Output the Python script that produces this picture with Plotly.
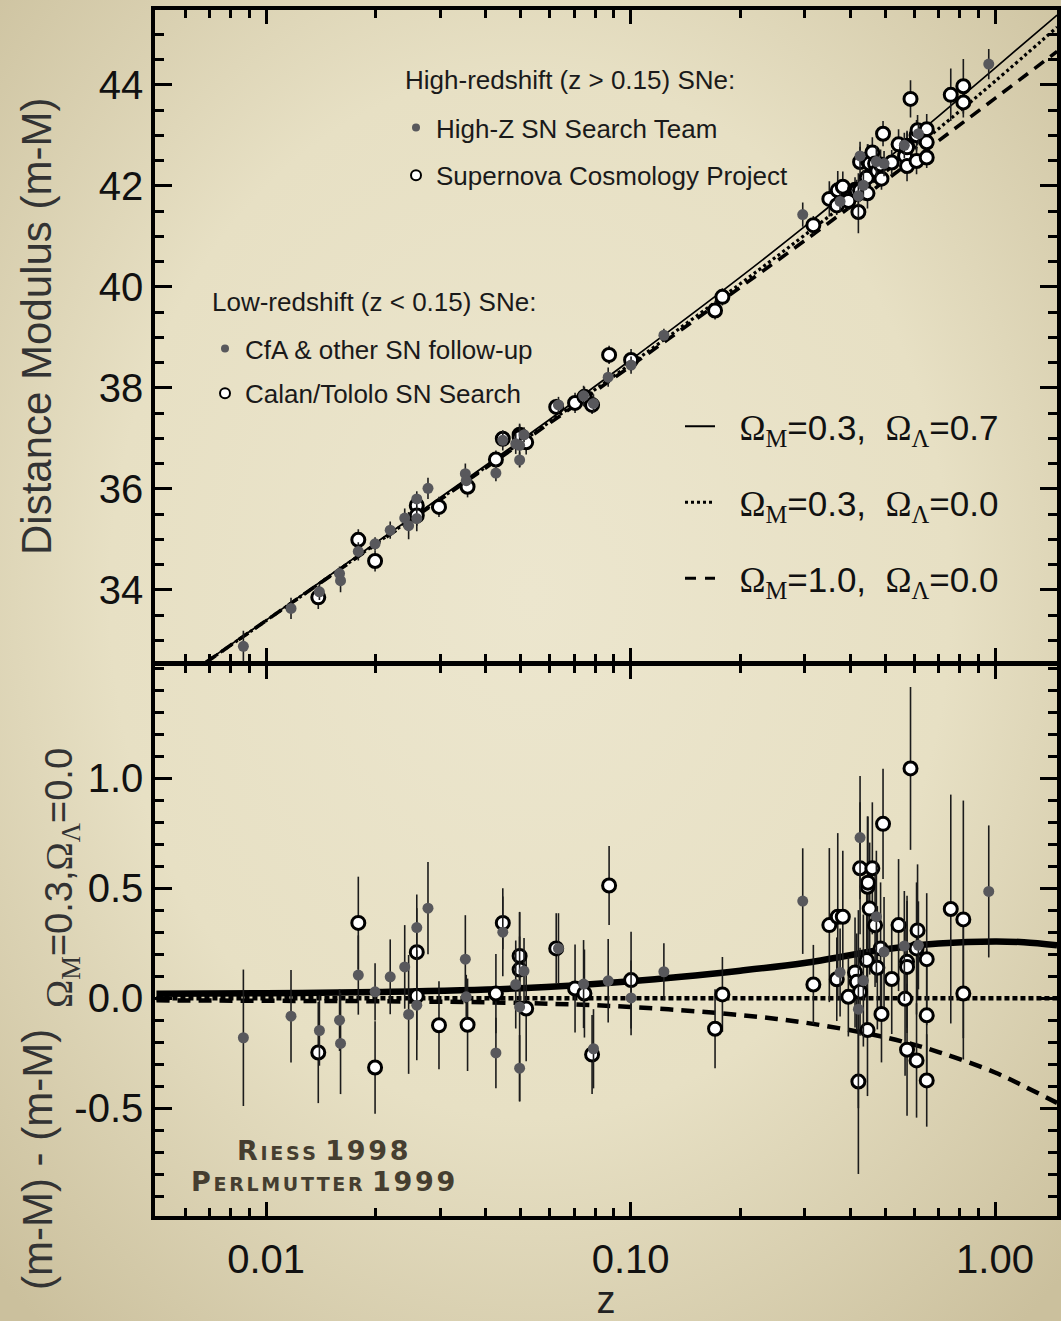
import base64
import plotly.graph_objects as go

# ---------------- data ----------------
# Low-redshift, filled grey (CfA & other SN follow-up)
lowz_filled_z = [0.00866, 0.0117, 0.0140, 0.0159, 0.0160, 0.0179, 0.0199, 0.0219, 0.0240, 0.0246,
                 0.0259, 0.0259, 0.0278, 0.0352, 0.0354, 0.0427, 0.0446, 0.0484, 0.0496, 0.0496,
                 0.0510, 0.0634, 0.0743, 0.0791, 0.0868, 0.1003, 0.1234]
lowz_filled_mu = [32.88, 33.63, 33.96, 34.32, 34.18, 34.76, 34.91, 35.18, 35.42, 35.27,
                  35.80, 35.41, 36.01, 36.30, 36.16, 36.31, 36.96, 36.89, 36.86, 36.57,
                  37.07, 37.66, 37.84, 37.69, 38.21, 38.45, 39.04]
lowz_filled_res = [-0.180, -0.082, -0.147, -0.100, -0.206, 0.105, 0.029, 0.097, 0.142, -0.074,
                   0.321, -0.032, 0.409, 0.177, 0.006, -0.249, 0.300, 0.062, -0.040, -0.318,
                   0.123, 0.226, 0.064, -0.230, 0.079, 0.001, 0.120]
lowz_filled_err = [0.31, 0.21, 0.16, 0.14, 0.23, 0.18, 0.13, 0.17, 0.19, 0.27,
                   0.15, 0.25, 0.21, 0.20, 0.10, 0.16, 0.20, 0.20, 0.43, 0.15,
                   0.15, 0.16, 0.20, 0.18, 0.19, 0.17, 0.13]

# Low-redshift, open (Calan/Tololo SN Search)
lowz_open_z = [0.0139, 0.0179, 0.0199, 0.0259, 0.0259, 0.0298, 0.0357, 0.0427, 0.0446, 0.0496,
               0.0496, 0.0517, 0.0625, 0.0704, 0.0747, 0.0784, 0.0873, 0.1003]
lowz_open_mu = [33.85, 34.99, 34.57, 35.67, 35.47, 35.64, 36.04, 36.58, 36.99, 37.07,
                37.02, 36.92, 37.62, 37.70, 37.82, 37.66, 38.65, 38.55]
lowz_open_res = [-0.247, 0.342, -0.315, 0.209, 0.010, -0.123, -0.121, 0.021, 0.342, 0.192,
                 0.130, -0.047, 0.226, 0.044, 0.021, -0.256, 0.512, 0.082]
lowz_open_err = [0.23, 0.21, 0.21, 0.20, 0.20, 0.20, 0.21, 0.18, 0.12, 0.20,
                 0.15, 0.24, 0.16, 0.20, 0.20, 0.18, 0.18, 0.22]

# High-redshift, filled grey (High-Z SN Search Team)
highz_filled_z = [0.2967, 0.3757, 0.4217, 0.4262, 0.4352, 0.4725, 0.4960, 0.5638, 0.6162, 0.961]
highz_filled_mu = [41.43, 41.69, 41.80, 42.59, 42.01, 42.48, 42.44, 42.80, 43.03, 44.41]
highz_filled_res = [0.441, 0.117, -0.050, 0.730, 0.080, 0.370, 0.210, 0.237, 0.240, 0.485]
highz_filled_err = [0.24, 0.20, 0.45, 0.28, 0.30, 0.30, 0.25, 0.25, 0.20, 0.30]

# High-redshift, open (Supernova Cosmology Project)
highz_open_z = [0.1705, 0.1786, 0.3173, 0.351, 0.3702, 0.3822, 0.3679, 0.3958, 0.4129, 0.4173,
                0.4217, 0.4262, 0.4262, 0.4446, 0.4467, 0.4467, 0.4480, 0.4529, 0.4606, 0.4686,
                0.4754, 0.4852, 0.4880, 0.4928, 0.5206, 0.5436, 0.5664, 0.5735, 0.5735, 0.5735,
                0.5862, 0.6090, 0.6090, 0.6129, 0.6494, 0.6494, 0.6494, 0.7560, 0.8184, 0.8184]
highz_open_mu = [39.53, 39.80, 41.22, 41.74, 41.91, 41.98, 41.61, 41.70, 41.92, 41.90,
                 41.48, 42.47, 41.91, 42.16, 42.50, 41.85, 42.52, 42.44, 42.66, 42.44,
                 42.29, 42.42, 42.14, 43.03, 42.46, 42.82, 42.59, 42.79, 42.76, 42.39,
                 43.72, 42.49, 43.00, 43.10, 43.12, 42.86, 42.56, 43.80, 43.97, 43.65]
highz_open_res = [-0.139, 0.017, 0.062, 0.332, 0.370, 0.370, 0.086, 0.006, 0.117, 0.074,
                  -0.379, 0.590, 0.029, 0.173, 0.506, -0.145, 0.525, 0.407, 0.590, 0.331,
                  0.138, 0.226, -0.072, 0.792, 0.087, 0.332, -0.003, 0.165, 0.142, -0.234,
                  1.044, -0.283, 0.226, 0.308, 0.177, -0.078, -0.374, 0.405, 0.358, 0.021]
highz_open_err = [0.18, 0.17, 0.18, 0.35, 0.38, 0.30, 0.19, 0.18, 0.25, 0.22,
                  0.42, 0.30, 0.20, 0.30, 0.32, 0.30, 0.30, 0.30, 0.30, 0.28,
                  0.28, 0.30, 0.22, 0.25, 0.25, 0.30, 0.35, 0.30, 0.30, 0.30,
                  0.37, 0.26, 0.30, 0.30, 0.30, 0.30, 0.21, 0.52, 0.54, 0.30]

# Model curves, top panel (distance modulus)
curve_z_top = [0.005, 0.00689, 0.01, 0.02, 0.05, 0.1, 0.2, 0.3, 0.5, 0.7, 1.0, 1.48]
top_l07 = [31.88, 32.59, 33.40, 34.93, 36.96, 38.55, 40.19, 41.19, 42.50, 43.38, 44.33, 45.38]
top_l00 = [31.88, 32.58, 33.39, 34.91, 36.92, 38.47, 40.06, 41.02, 42.27, 43.13, 44.07, 45.14]
top_m10 = [31.88, 32.58, 33.39, 34.90, 36.90, 38.43, 39.99, 40.91, 42.10, 42.89, 43.73, 44.66]

# Model curves, bottom panel (residual from Om=0.3, OL=0.0)
curve_z_bot = [0.005, 0.01, 0.02, 0.05, 0.1, 0.2, 0.3, 0.5, 0.7, 1.0, 1.2, 1.48]
bot_l07 = [0.020, 0.022, 0.028, 0.045, 0.077, 0.125, 0.160, 0.222, 0.248, 0.258, 0.254, 0.240]
bot_l00 = [0.000, 0.000, 0.000, 0.000, 0.000, 0.000, 0.000, 0.000, 0.000, 0.000, 0.000, 0.000]
bot_m10 = [-0.010, -0.012, -0.014, -0.022, -0.040, -0.077, -0.111, -0.178, -0.245, -0.338, -0.400, -0.476]

# Ticks
x_tickvals = [0.01, 0.1, 1.0]
x_ticktext = ["0.01", "0.10", "1.00"]
x_minor = [0.006, 0.007, 0.008, 0.009, 0.02, 0.03, 0.04, 0.05, 0.06, 0.07, 0.08, 0.09,
           0.2, 0.3, 0.4, 0.5, 0.6, 0.7, 0.8, 0.9]
ytop_tickvals = [34, 36, 38, 40, 42, 44]
ytop_ticktext = ["34", "36", "38", "40", "42", "44"]
ybot_tickvals = [-0.5, 0.0, 0.5, 1.0]
ybot_ticktext = ["-0.5", "0.0", "0.5", "1.0"]

# ---------------- styling ----------------
SANS = "Liberation Sans, Arial, sans-serif"
SERIF = "Liberation Serif"
OPEN_MK = dict(symbol="circle", size=13, color="white", line=dict(color="black", width=3))
FILL_MK = dict(symbol="circle", size=11, color="#58585c", line=dict(width=0))
ERR_COL = "#1c1c1c"
LW = 3.5


def errs(arr):
    return dict(type="data", array=arr, visible=True, thickness=1.6, width=0, color=ERR_COL)


fig = go.Figure()

# --- model curves, top panel
fig.add_trace(go.Scatter(x=curve_z_top, y=top_l07, mode="lines", xaxis="x2", yaxis="y2",
                         line=dict(color="black", width=1.7, shape="spline"), showlegend=False))
fig.add_trace(go.Scatter(x=curve_z_top, y=top_l00, mode="lines", xaxis="x2", yaxis="y2",
                         line=dict(color="black", width=3.2, dash="3px,3px", shape="spline"), showlegend=False))
fig.add_trace(go.Scatter(x=curve_z_top, y=top_m10, mode="lines", xaxis="x2", yaxis="y2",
                         line=dict(color="black", width=3.6, dash="12px,8px", shape="spline"), showlegend=False))
# --- model curves, bottom panel
fig.add_trace(go.Scatter(x=curve_z_bot, y=bot_l07, mode="lines", xaxis="x", yaxis="y",
                         line=dict(color="black", width=6.5, shape="spline"), showlegend=False))
fig.add_trace(go.Scatter(x=curve_z_bot, y=bot_l00, mode="lines", xaxis="x", yaxis="y",
                         line=dict(color="black", width=4.5, dash="5px,3px"), showlegend=False))
fig.add_trace(go.Scatter(x=curve_z_bot, y=bot_m10, mode="lines", xaxis="x", yaxis="y",
                         line=dict(color="black", width=4.5, dash="13px,8px", shape="spline"), showlegend=False))

# --- open points (drawn first), then filled points on top
for zz, mu, rr, ee in [(lowz_open_z, lowz_open_mu, lowz_open_res, lowz_open_err),
                       (highz_open_z, highz_open_mu, highz_open_res, highz_open_err)]:
    fig.add_trace(go.Scatter(x=zz, y=mu, mode="markers", xaxis="x2", yaxis="y2", marker=OPEN_MK,
                             error_y=errs(ee), showlegend=False))
    fig.add_trace(go.Scatter(x=zz, y=rr, mode="markers", xaxis="x", yaxis="y", marker=OPEN_MK,
                             error_y=errs(ee), showlegend=False))
for zz, mu, rr, ee in [(lowz_filled_z, lowz_filled_mu, lowz_filled_res, lowz_filled_err),
                       (highz_filled_z, highz_filled_mu, highz_filled_res, highz_filled_err)]:
    fig.add_trace(go.Scatter(x=zz, y=mu, mode="markers", xaxis="x2", yaxis="y2", marker=FILL_MK,
                             error_y=errs(ee), showlegend=False))
    fig.add_trace(go.Scatter(x=zz, y=rr, mode="markers", xaxis="x", yaxis="y", marker=FILL_MK,
                             error_y=errs(ee), showlegend=False))

# --- legend-only entries
LEG_DOT = dict(symbol="circle", size=8, color="#58585c")
LEG_OPEN = dict(symbol="circle", size=10, color="white", line=dict(color="black", width=2))
fig.add_trace(go.Scatter(x=[None], y=[None], mode="markers", marker=LEG_DOT, name="High-Z SN Search Team",
                         legend="legend", legendgroup="a1"))
fig.add_trace(go.Scatter(x=[None], y=[None], mode="markers", marker=LEG_OPEN, name="Supernova Cosmology Project",
                         legend="legend", legendgroup="a2"))
fig.add_trace(go.Scatter(x=[None], y=[None], mode="markers", marker=LEG_DOT, name="CfA &amp; other SN follow-up",
                         legend="legend2", legendgroup="b1"))
fig.add_trace(go.Scatter(x=[None], y=[None], mode="markers", marker=LEG_OPEN, name="Calan/Tololo SN Search",
                         legend="legend2", legendgroup="b2"))


def om(sub, val):
    return (f'<span style="font-family:{SERIF}">Ω</span><sub><span style="font-family:{SERIF}">{sub}</span></sub>={val}')


NB = "\u00a0"
fig.add_trace(go.Scatter(x=[None], y=[None], mode="lines", line=dict(color="black", width=2),
                         name=NB * 2 + om("M", "0.3") + "," + NB * 2 + om("Λ", "0.7"),
                         legend="legend3", legendgroup="c1"))
fig.add_trace(go.Scatter(x=[None], y=[None], mode="lines", line=dict(color="black", width=3, dash="3px,3px"),
                         name=NB * 2 + om("M", "0.3") + "," + NB * 2 + om("Λ", "0.0"),
                         legend="legend3", legendgroup="c2"))
fig.add_trace(go.Scatter(x=[None], y=[None], mode="lines", line=dict(color="black", width=3.2, dash="11px,9px"),
                         name=NB * 2 + om("M", "1.0") + "," + NB * 2 + om("Λ", "0.0"),
                         legend="legend3", legendgroup="c3"))

# ---------------- axes ----------------
xcommon = dict(type="log", range=[-2.305, 0.170], showgrid=False, zeroline=False, showline=True,
               linecolor="black", linewidth=LW, mirror="ticks", ticks="inside", ticklen=14,
               tickwidth=3, tickcolor="black", tickmode="array", tickvals=x_tickvals, ticktext=x_ticktext,
               automargin=False,
               minor=dict(ticks="inside", ticklen=8, tickwidth=2.5, tickcolor="black",
                          tickmode="array", tickvals=x_minor, showgrid=False))
ycommon = dict(showgrid=False, zeroline=False, showline=True, linecolor="black", linewidth=LW,
               mirror="ticks", ticks="inside", ticklen=17, tickwidth=3, tickcolor="black", automargin=False,
               tickmode="array", tickfont=dict(family=SANS, size=40, color="#111"), ticklabelstandoff=0)

split = 551 / 1206
top_start = split + LW / 1206   # so the two panel border lines coincide
fig.update_layout(
    xaxis=dict(**xcommon, anchor="y", domain=[0, 1],
               tickfont=dict(family=SANS, size=40, color="#111"), ticklabelstandoff=5,
               title=dict(text="z", font=dict(family=SANS, size=38, color="#222"), standoff=20)),
    xaxis2=dict(**xcommon, anchor="y2", matches="x", showticklabels=False),
    yaxis=dict(**ycommon, domain=[0, split], range=[-0.99, 1.514], tickvals=ybot_tickvals, ticktext=ybot_ticktext,
               minor=dict(ticks="inside", ticklen=9, tickwidth=2.5, tickcolor="black",
                          tickmode="linear", tick0=0, dtick=0.1, showgrid=False)),
    yaxis2=dict(**ycommon, domain=[top_start, 1], range=[32.58, 45.48], tickvals=ytop_tickvals,
                ticktext=ytop_ticktext,
                minor=dict(ticks="inside", ticklen=9, tickwidth=2.5, tickcolor="black",
                           tickmode="linear", tick0=0, dtick=0.5, showgrid=False)),
)

LEGFONT = dict(family=SANS, size=26, color="#1a1a1a")
fig.update_layout(
    legend=dict(font=LEGFONT, x=(396 - 155) / 902, y=(1216 - 104) / 1206, xanchor="left", yanchor="top",
                bgcolor="rgba(0,0,0,0)", tracegroupgap=11, itemsizing="trace"),
    legend2=dict(font=LEGFONT, x=(205 - 155) / 902, y=(1216 - 325) / 1206, xanchor="left", yanchor="top",
                 bgcolor="rgba(0,0,0,0)", tracegroupgap=8, itemsizing="trace"),
    legend3=dict(font=dict(family=SANS, size=35, color="#111"),
                 x=(680 - 155) / 902, y=(1216 - 397) / 1206, xanchor="left", yanchor="top",
                 bgcolor="rgba(0,0,0,0)", tracegroupgap=27.5, itemsizing="trace"),
)

# ---------------- annotations ----------------
ann = []
ann.append(dict(text="High-redshift (z &gt; 0.15) SNe:", xref="paper", yref="paper",
                x=(403 - 155) / 902, y=(1216 - 80) / 1206, xanchor="left", yanchor="middle",
                showarrow=False, font=LEGFONT))
ann.append(dict(text="Low-redshift (z &lt; 0.15) SNe:", xref="paper", yref="paper",
                x=(210 - 155) / 902, y=(1216 - 302) / 1206, xanchor="left", yanchor="middle",
                showarrow=False, font=LEGFONT))
ann.append(dict(text="Distance Modulus (m-M)", textangle=-90, xref="paper", yref="paper",
                x=(37 - 155) / 902, y=(1216 - 327) / 1206, xanchor="center", yanchor="middle",
                showarrow=False, font=dict(family=SANS, size=42, color="#333")))
ann.append(dict(text="(m-M) - (m-M)", textangle=-90, xref="paper", yref="paper",
                x=(37 - 155) / 902, y=(1216 - 1160) / 1206, xanchor="center", yanchor="middle",
                showarrow=False, font=dict(family=SANS, size=42, color="#333")))
ann.append(dict(text=om("M", "0.3") + "," + om("Λ", "0.0"), textangle=-90, xref="paper", yref="paper",
                x=(62 - 155) / 902, y=(1216 - 878) / 1206, xanchor="center", yanchor="middle",
                showarrow=False, font=dict(family=SANS, size=38, color="#333")))
HS = "\u200a"
ann.append(dict(text=HS.join("Riess") + " " + HS.join("1998"), xref="paper", yref="paper",
                x=(323 - 155) / 902, y=(1216 - 1150) / 1206, xanchor="center", yanchor="middle",
                showarrow=False, font=dict(family="DejaVu Sans", size=27, color="#453e30",
                                           variant="small-caps", weight="bold")))
ann.append(dict(text=HS.join("Perlmutter") + " " + HS.join("1999"), xref="paper", yref="paper",
                x=(323 - 155) / 902, y=(1216 - 1181) / 1206, xanchor="center", yanchor="middle",
                showarrow=False, font=dict(family="DejaVu Sans", size=27, color="#453e30",
                                           variant="small-caps", weight="bold")))
fig.update_layout(annotations=ann)

# ---------------- background paper ----------------
svg = ('<svg xmlns="http://www.w3.org/2000/svg" width="1061" height="1321" viewBox="0 0 1061 1321" '
       'preserveAspectRatio="none"><defs><radialGradient id="g" cx="50%" cy="45%" r="72%">'
       '<stop offset="0%" stop-color="#ece6ce"/><stop offset="55%" stop-color="#e7e0c4"/>'
       '<stop offset="100%" stop-color="#cbc09d"/></radialGradient></defs>'
       '<rect width="1061" height="1321" fill="url(#g)"/></svg>')
src = "data:image/svg+xml;base64," + base64.b64encode(svg.encode()).decode()
fig.update_layout(images=[dict(source=src, xref="paper", yref="paper", x=-155 / 902, y=1 + 10 / 1206,
                               sizex=1061 / 902, sizey=1321 / 1206, sizing="stretch",
                               xanchor="left", yanchor="top", layer="below")])

fig.update_layout(width=1061, height=1321, autosize=False,
                  margin=dict(l=155, r=4, t=10, b=105, autoexpand=False),
                  paper_bgcolor="#e4dcc0", plot_bgcolor="rgba(0,0,0,0)",
                  font=dict(family=SANS, color="#111"))

fig.write_html("out.html")
